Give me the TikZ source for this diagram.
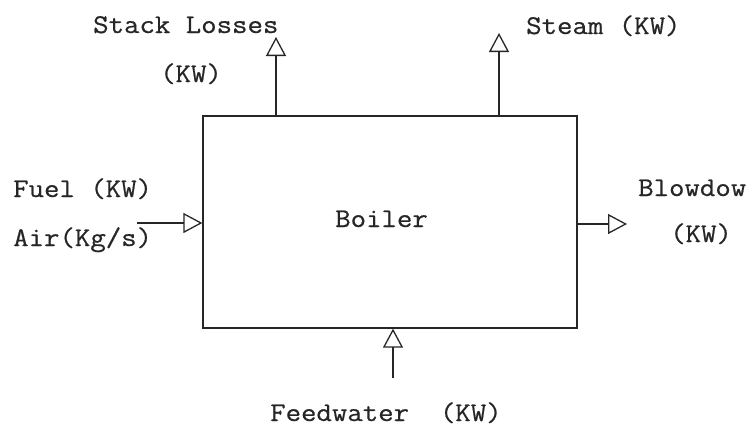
\documentclass[tikz,border=0pt]{standalone}
\usepackage{fontspec}
\setmonofont{Latin Modern Mono}[FakeStretch=1.11,FakeBold=0.6]
\usetikzlibrary{arrows.meta}
\begin{document}
\begin{tikzpicture}[x=1pt,y=-1pt,
  lbl/.style={anchor=base west,inner sep=0pt,font=\ttfamily\fontsize{27}{30}\selectfont,text=black!85},
  flow/.style={draw=black!85,line width=1.3pt,-{Triangle[open,length=19pt,width=20pt,line width=1.3pt]}},
  boxstyle/.style={draw=black!85,line width=1.3pt,minimum width=374pt,minimum height=212pt,inner sep=0pt}]
\useasboundingbox (0,0) rectangle (752,426);
\node[boxstyle] (boiler) at (390,222) {};
\node[lbl] (boilertxt) at (335,227) {Boiler};
% outputs / inputs
\coordinate (stackend) at (276,37);
\coordinate (steamend) at (499,33);
\coordinate (fuelin) at (137,223);
\coordinate (blowend) at (627,224);
\coordinate (fwin) at (393,378);
\draw[flow] (boiler.north -| stackend) -- (stackend);
\draw[flow] (boiler.north -| steamend) -- (steamend);
\draw[flow] (fuelin) -- (boiler.west |- fuelin);
\draw[flow] (boiler.east |- blowend) -- (blowend);
\draw[flow] (fwin) -- (boiler.south -| fwin);
% labels
\node[lbl] (stacklbl) at (93,33) {Stack Losses};
\node[lbl] (stackkw) at (160,82) {(KW)};
\node[lbl] (steamlbl) at (526,34) {Steam (KW)};
\node[lbl] (fuellbl) at (13,197) {Fuel (KW)};
\node[lbl] (airlbl) at (13,246) {Air(Kg/s)};
\node[lbl] (blowlbl) at (638,196) {Blowdow};
\node[lbl] (blowkw) at (670,242) {(KW)};
\node[lbl] (fwlbl) at (270,421) {Feedwater\ \ (KW)};
\end{tikzpicture}
\end{document}
